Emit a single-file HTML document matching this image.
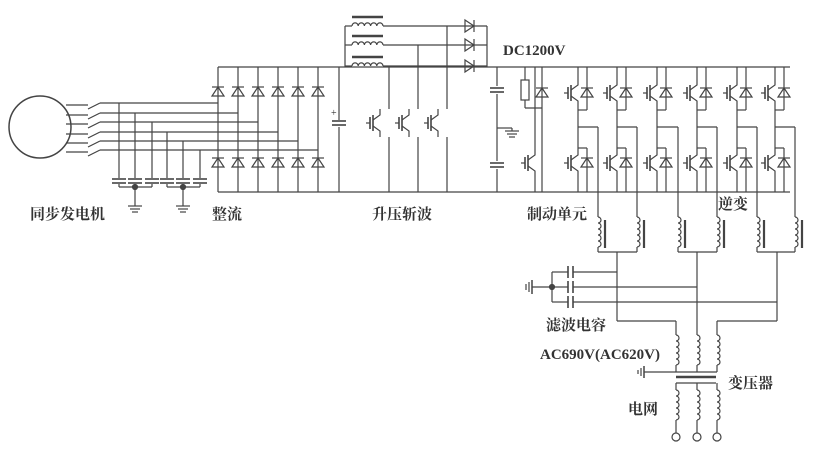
<!DOCTYPE html>
<html><head><meta charset="utf-8"><style>
html,body{margin:0;padding:0;background:#fff;}
svg{display:block;}
text{font-family:"Liberation Serif","Noto Serif CJK SC","Noto Sans CJK SC",serif;fill:#333;font-size:15px;font-weight:bold;}
</style></head><body>
<svg id="s" width="820" height="452" viewBox="0 0 820 452" xmlns="http://www.w3.org/2000/svg" stroke="#444" stroke-width="1.2" fill="none">
<defs>
<g id="dU"><line x1="-6" y1="-5" x2="6" y2="-5"/><polygon points="-6,4 6,4 0,-5"/></g>
<g id="dR"><line x1="5" y1="-6" x2="5" y2="6"/><polygon points="-4,-6 -4,6 5,0"/></g>
<g id="ig"><line x1="-10" y1="0" x2="-6" y2="0"/><line x1="-6" y1="-6" x2="-6" y2="6" stroke-width="1.6"/><line x1="-3" y1="-8" x2="-3" y2="8" stroke-width="1.6"/><polyline points="-3,-3 4,-8 4,-14"/><polyline points="-3,3 4,8 4,14"/></g>
<g id="cap"><line x1="-7" y1="-2" x2="7" y2="-2" stroke-width="1.6"/><line x1="-7" y1="2" x2="7" y2="2" stroke-width="1.6"/></g>
<g id="gnd"><line x1="-7" y1="0" x2="7" y2="0"/><line x1="-5" y1="3" x2="5" y2="3"/><line x1="-3" y1="6" x2="3" y2="6"/></g>
</defs>
<g id="g"></g>
<text x="30" y="219" stroke="none">同步发电机</text>
<text x="212" y="219" stroke="none">整流</text>
<text x="372" y="219" stroke="none">升压斩波</text>
<text x="503" y="55" stroke="none">DC1200V</text>
<text x="527" y="219" stroke="none">制动单元</text>
<text x="718" y="209" stroke="none">逆变</text>
<text x="546" y="330" stroke="none">滤波电容</text>
<text x="540" y="359" stroke="none">AC690V(AC620V)</text>
<text x="728" y="388" stroke="none">变压器</text>
<text x="628" y="414" stroke="none">电网</text>
</svg>
<script>
var g=document.getElementById('g'),o='';
function L(a,b,c,d,w){o+='<line x1="'+a+'" y1="'+b+'" x2="'+c+'" y2="'+d+'"'+(w?' stroke-width="'+w+'"':'')+'/>';}
function U(id,x,y,r){o+='<use href="#'+id+'" transform="translate('+x+','+y+')'+(r?' rotate('+r+')':'')+'"/>';}
function coilH(x,y,n,w){var s='M'+x+','+y;for(var i=0;i<n;i++){s+=' a'+(w/2)+','+(w/2)+' 0 0 1 '+w+',0';}o+='<path d="'+s+'"/>';}
function coilV(x,y,n,w){var s='M'+x+','+y;for(var i=0;i<n;i++){s+=' a'+(w/2)+','+(w/2)+' 0 0 1 0,'+w;}o+='<path d="'+s+'"/>';}
function dot(x,y){o+='<circle cx="'+x+'" cy="'+y+'" r="2.5" fill="#444"/>';}
o+='<circle cx="40" cy="127" r="31" stroke-width="1.5"/>';
var ly=[103,113,122,132,141,150],cx=[218,238,258,278,298,318];
for(var i=0;i<6;i++){L(66,ly[i]+2,88,ly[i]+2);L(88,ly[i]+6,100,ly[i]);L(100,ly[i],cx[i],ly[i]);}
var dx=[119,135,152,167,183,200];
for(i=0;i<6;i++){L(dx[i],ly[i],dx[i],178);U('cap',dx[i],181);L(dx[i],184,dx[i],i%3==1?196:187);}
L(119,187,152,187);L(167,187,200,187);dot(135,187);dot(183,187);
U('gnd',135,206);U('gnd',183,206);L(135,196,135,206);L(183,196,183,206);
L(218,67,790,67);L(218,192,790,192);
for(i=0;i<6;i++){L(cx[i],67,cx[i],192);U('dU',cx[i],92);U('dU',cx[i],163);}
L(339,67,339,120);L(339,127,339,192);U('cap',339,123);o+='<text x="331" y="116" stroke="none" style="font-size:10px;font-weight:normal">+</text>';
L(345,26,345,67);
var iy=[26,45,66];
for(i=0;i<3;i++){L(345,iy[i],352,iy[i]);coilH(352,iy[i],5,6.2);L(352,iy[i]-9,383,iy[i]-9,2.5);L(383,iy[i],487,iy[i]);U('dR',469,iy[i]);}
L(487,26,487,67);
var bx=[[376,389,66],[405,418,45],[434,447,26]];
for(i=0;i<3;i++){U('ig',bx[i][0],123);L(bx[i][1],bx[i][2],bx[i][1],109);L(bx[i][1],137,bx[i][1],192);}
L(497,67,497,86);U('cap',497,90);L(497,94,497,161);U('cap',497,165);L(497,169,497,192);
L(497,128,512,128);L(512,128,512,131);U('gnd',512,131);
L(525,67,525,80);o+='<rect x="521" y="80" width="8" height="20"/>';L(525,100,525,108);L(525,108,542,108);
L(542,67,542,192);U('dU',542,93);U('ig',531,163);L(535,67,535,149);L(535,177,535,192);
var lx=[568,607,647,687,727,765],cw=[598,637,678,717,757,795];
for(i=0;i<6;i++){var x=lx[i],c=x+10,d=x+19;U('ig',x+6,93);U('dU',d,93);L(c,67,c,79);L(d,67,d,110);L(c,107,c,148);L(c,110,d,110);
L(c,127,cw[i],127);L(cw[i],127,cw[i],217);
U('ig',x+6,163);U('dU',d,163);L(c,148,d,148);L(d,148,d,192);L(c,148,c,149);L(c,177,c,192);
coilV(cw[i],217,5,6);L(cw[i]+7,220,cw[i]+7,248,2.2);}
for(i=0;i<3;i++){L(cw[2*i],247,cw[2*i],252);L(cw[2*i+1],247,cw[2*i+1],252);L(cw[2*i],252,cw[2*i+1],252);}
L(617,252,617,321);L(617,321,676,321);L(697,252,697,335);L(777,252,777,321);L(777,321,717,321);L(676,321,676,335);L(717,321,717,335);
var fy=[272,287,302],fe=[617,697,777];
for(i=0;i<3;i++){L(552,fy[i],568,fy[i]);L(568,fy[i]-6,568,fy[i]+6,1.6);L(573,fy[i]-6,573,fy[i]+6,1.6);L(573,fy[i],fe[i],fy[i]);}
L(552,272,552,302);dot(552,287);L(532,287,552,287);L(532,280,532,294,1.5);L(529,282,529,292);L(526,284,526,290);
for(i=0;i<3;i++){var tx=[676,697,717][i];coilV(tx,335,5,6);L(tx,365,tx,372);coilV(tx,390,5,6);L(tx,420,tx,433);o+='<circle cx="'+tx+'" cy="437" r="4"/>';L(tx,383,tx,390);}
L(644,372,717,372);L(644,366,644,378,1.5);L(641,368,641,376);L(638,370,638,374);
L(676,377,716,377,2.5);L(676,383,716,383);
g.innerHTML=o;
</script>
</body></html>
